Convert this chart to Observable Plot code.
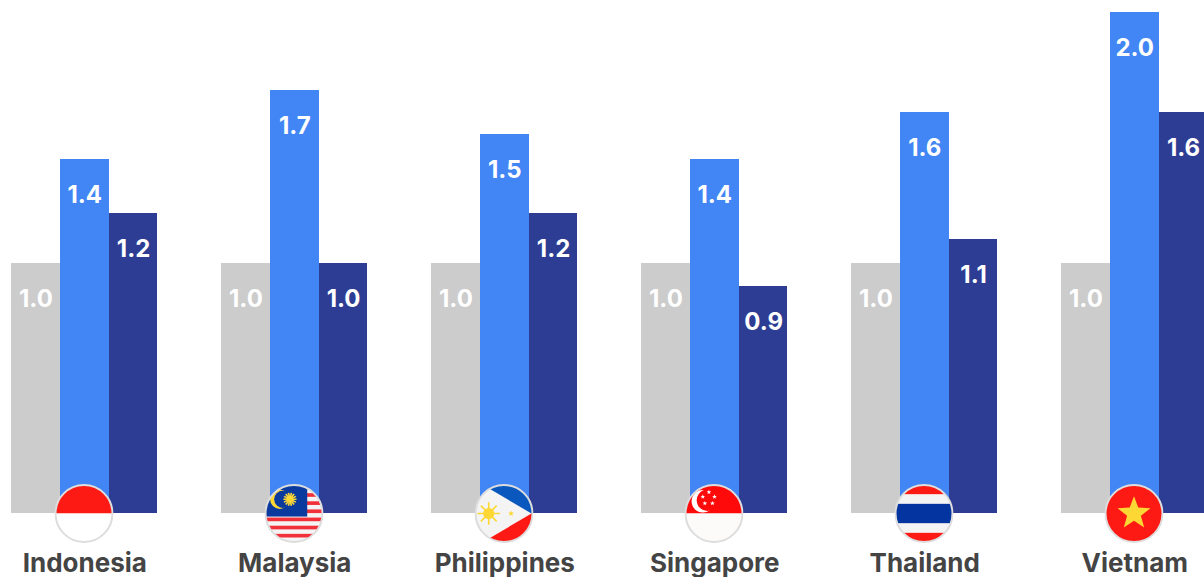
<!DOCTYPE html>
<html><head><meta charset="utf-8">
<style>html,body{margin:0;padding:0;background:#fff;overflow:hidden}</style>
<script src="https://cdn.jsdelivr.net/npm/d3@7"></script>
<script src="https://cdn.jsdelivr.net/npm/@observablehq/plot@0.6"></script>
</head><body><div id="chart"></div>
<script>
const countries = ["Indonesia","Malaysia","Philippines","Singapore","Thailand","Vietnam"];
const seriesNames = ["base","middle","last"];
const baseValues = [1.0,1.0,1.0,1.0,1.0,1.0];
const middleValues = [1.415,1.69,1.512,1.415,1.60,2.0];
const lastValues = [1.197,1.0,1.197,0.905,1.095,1.6];
const seriesColors = ["#cccccc","#4285f4","#2d3d94"];

const star = (cx,cy,r,fill) => {
  const p = d3.range(10).map(i => {
    const a = -Math.PI/2 + i*Math.PI/5, q = i%2 ? r*0.42 : r;
    return `${(cx+q*Math.cos(a)).toFixed(2)},${(cy+q*Math.sin(a)).toFixed(2)}`;
  }).join(" ");
  return `<polygon points="${p}" fill="${fill}"/>`;
};
const sun = (cx,cy,r,n,fill) => {
  let s = `<circle cx="${cx}" cy="${cy}" r="${r*0.5}" fill="${fill}"/>`;
  for (let i=0;i<n;i++){
    const a = i*2*Math.PI/n;
    s += `<line x1="${cx}" y1="${cy}" x2="${(cx+r*Math.cos(a)).toFixed(2)}" y2="${(cy+r*Math.sin(a)).toFixed(2)}" stroke="${fill}" stroke-width="1.6"/>`;
  }
  return s;
};
const R="#fe1a14", W="#f4f4f4", Y="#fdd835";
const flagArt = {
  Indonesia: `<rect width="58" height="29" fill="${R}"/><rect y="29" width="58" height="29" fill="#fff"/>`,
  Malaysia: `<rect width="58" height="58" fill="${W}"/>`+
    [1,9,17,25,33,41,49].map(y=>`<rect y="${y}" width="58" height="3.6" fill="#f2303a"/>`).join("")+
    `<rect width="42" height="32" fill="#0a3a9e"/>`+
    `<circle cx="15" cy="15" r="9.5" fill="${Y}"/><circle cx="18" cy="15" r="8.5" fill="#0a3a9e"/>`+sun(25,15,6.5,14,Y),
  Philippines: `<rect width="58" height="29" fill="#0a57bd"/><rect y="29" width="58" height="29" fill="${R}"/>`+
    `<polygon points="0,-4 56,29 0,62" fill="${W}"/>`+
    sun(14,29,11,8,Y)+star(36,29,3,Y),
  Singapore: `<rect width="58" height="29" fill="#fe0a0a"/><rect y="29" width="58" height="29" fill="#fdfbf9"/>`+
    `<circle cx="18" cy="17" r="11" fill="#fff"/><circle cx="22.5" cy="16" r="10.5" fill="#fe0a0a"/>`+
    star(24,8,2.4,"#fff")+star(29.5,12.5,2.4,"#fff")+star(27.5,19,2.4,"#fff")+star(20,19,2.4,"#fff")+star(18,12.5,2.4,"#fff"),
  Thailand: `<rect width="58" height="58" fill="${R}"/><rect y="10" width="58" height="38" fill="${W}"/><rect y="19.5" width="58" height="19" fill="#0434a0"/>`,
  Vietnam: `<rect width="58" height="58" fill="${R}"/>`+star(29,29,17,Y)
};
const flagSrc = name => "data:image/svg+xml;utf8," + encodeURIComponent(
  `<svg xmlns="http://www.w3.org/2000/svg" width="58" height="58" viewBox="0 0 58 58">`+
  `<defs><clipPath id="c"><circle cx="29" cy="29" r="28"/></clipPath></defs>`+
  `<g clip-path="url(#c)">${flagArt[name]}</g>`+
  `<circle cx="29" cy="29" r="28" fill="none" stroke="#dddddd" stroke-width="2"/></svg>`);

const rows = countries.flatMap((c,i) => [baseValues[i],middleValues[i],lastValues[i]]
  .map((v,j) => ({country:c, series:seriesNames[j], value:v})));
const font = "Inter, sans-serif";

const plot = Plot.plot({
  width:1204, height:577,
  marginTop:12, marginBottom:64, marginLeft:11, marginRight:-3.5,
  style:{background:"#fff", fontFamily:font},
  x:{domain:seriesNames, axis:null, padding:0, round:false, label:null},
  y:{domain:[0,2], axis:null},
  fx:{domain:countries, paddingInner:0.3024, paddingOuter:0, round:false, label:null, axis:null},
  color:{domain:seriesNames, range:seriesColors},
  marks:[
    Plot.barY(rows,{fx:"country",x:"series",y:"value",fill:"series",shapeRendering:"crispEdges"}),
    Plot.text(rows,{fx:"country",x:"series",y:"value",text:d=>d.value.toFixed(1),
      dy:36,fill:"#fff",fontSize:24,fontWeight:700,fontFamily:font}),
    Plot.image(countries,{fx:d=>d,y:()=>0,src:flagSrc,width:59,height:59,frameAnchor:"middle",dx:-0.75}),
    Plot.axisFx({anchor:"bottom",tickSize:0,tickPadding:50,fontSize:26,fontWeight:700,
      fontFamily:font,fill:"#444444",label:null,lineAnchor:"middle"})
  ]
});
document.getElementById("chart").appendChild(plot);
</script></body></html>
